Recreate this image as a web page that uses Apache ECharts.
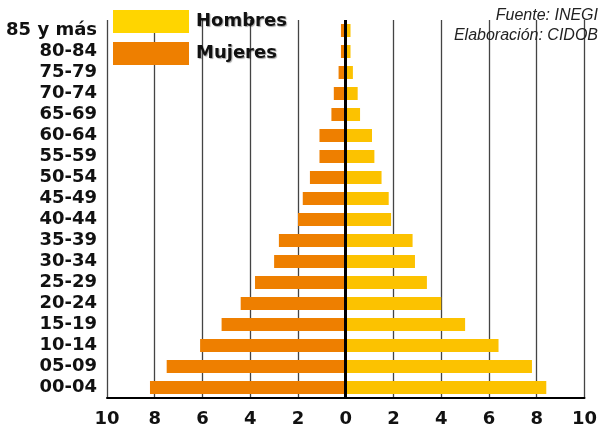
<!DOCTYPE html>
<html>
<head>
<meta charset="utf-8">
<script src="https://cdn.jsdelivr.net/npm/echarts@6/dist/echarts.min.js"></script>
<style>html,body{margin:0;padding:0;background:#fff}#c{width:600px;height:430px}</style>
</head>
<body>
<div id="c"></div>
<script>
// Age groups, bottom (youngest) to top (oldest)
const categories = ['00-04','05-09','10-14','15-19','20-24','25-29','30-34','35-39','40-44','45-49','50-54','55-59','60-64','65-69','70-74','75-79','80-84','85 y más'];
// Percent of population
const hombres = [8.4, 7.8, 6.4, 5.0, 4.0, 3.4, 2.9, 2.8, 1.9, 1.8, 1.5, 1.2, 1.1, 0.6, 0.5, 0.3, 0.2, 0.2];
const mujeres = [8.2, 7.5, 6.1, 5.2, 4.4, 3.8, 3.0, 2.8, 2.0, 1.8, 1.5, 1.1, 1.1, 0.6, 0.5, 0.3, 0.2, 0.2];
const xTicks = [-10, -8, -6, -4, -2, 0, 2, 4, 6, 8, 10];
const sourceLines = ['Fuente: INEGI', 'Elaboración: CIDOB'];

const FONT = 'DejaVu Sans';
const chart = echarts.init(document.getElementById('c'), null, {renderer: 'canvas'});
chart.setOption({
  animation: false,
  backgroundColor: '#fff',
  grid: {left: 107, right: 15, top: 20, bottom: 32, containLabel: false},
  legend: {
    orient: 'vertical', left: 108, top: 5, padding: 5,
    itemWidth: 76, itemHeight: 23, itemGap: 9,
    icon: 'rect',
    textStyle: {fontFamily: FONT, fontWeight: 'bold', fontSize: 18, color: '#111',
      textShadowColor: 'rgba(0,0,0,0.35)', textShadowOffsetX: 1, textShadowOffsetY: 1, textShadowBlur: 1,
      padding: [0, 0, 0, 2]},
    data: [
      {name: 'Hombres', itemStyle: {color: '#FFD500'}},
      {name: 'Mujeres', itemStyle: {color: '#EE7F00'}}
    ]
  },
  xAxis: {
    type: 'value', min: xTicks[0], max: xTicks[xTicks.length - 1], interval: 2,
    axisLine: {show: true, onZero: false, lineStyle: {color: '#000', width: 2}},
    axisTick: {show: false},
    axisLabel: {fontFamily: FONT, fontWeight: 'bold', fontSize: 18, color: '#111', margin: 12,
      formatter: v => String(Math.abs(v))},
    splitLine: {show: true, lineStyle: {color: '#444', width: 1.3}}
  },
  yAxis: {
    type: 'category', data: categories,
    axisLine: {show: false}, axisTick: {show: false},
    axisLabel: {interval: 0, fontFamily: FONT, fontWeight: 'bold', fontSize: 18, color: '#111', margin: 10}
  },
  series: [
    {
      name: 'Mujeres', type: 'bar', barWidth: 13, barGap: '-100%',
      itemStyle: {color: '#EE7F00'},
      data: mujeres.map(v => -v)
    },
    {
      name: 'Hombres', type: 'bar', barWidth: 13, barGap: '-100%',
      itemStyle: {color: '#FCC200'},
      data: hombres,
      markLine: {
        silent: true, symbol: ['none', 'none'], label: {show: false},
        lineStyle: {color: '#000', width: 3, type: 'solid'},
        data: [{xAxis: 0}]
      }
    }
  ],
  graphic: sourceLines.map((t, i) => ({
    type: 'text', right: 2, top: 8 + i * 20, z: 10,
    style: {text: t, font: 'italic 16px "Liberation Sans"', fill: '#222'}
  }))
});
</script>
</body>
</html>
